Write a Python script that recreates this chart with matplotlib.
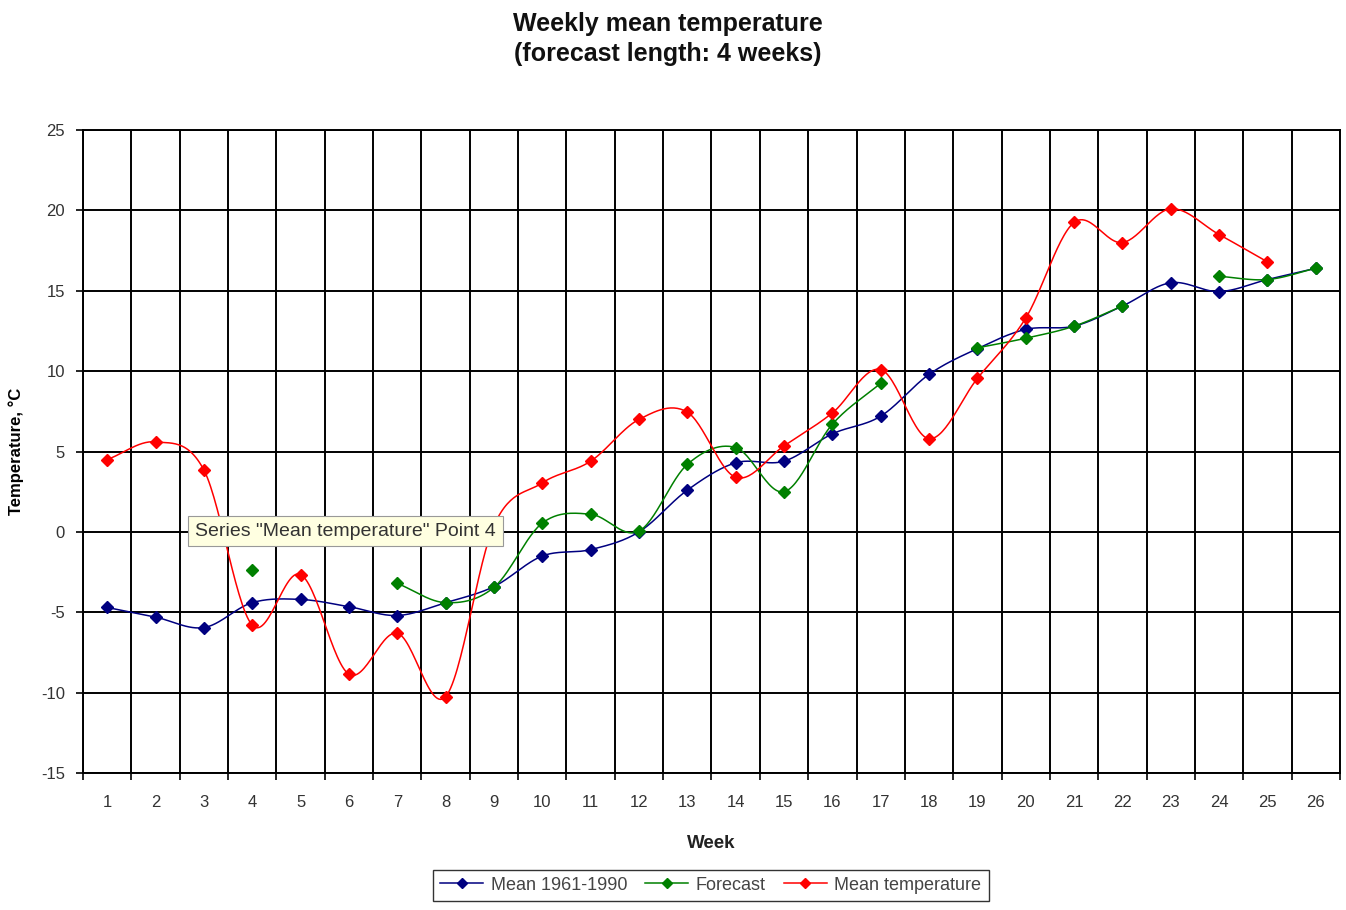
import numpy as np
import matplotlib
matplotlib.use("Agg")
import matplotlib.pyplot as plt

plt.rcParams['font.family'] = ['Liberation Sans', 'DejaVu Sans']
plt.rcParams['axes.unicode_minus'] = False

# data
weeks = list(range(1, 27))
mean_1961_1990 = [-4.7, -5.3, -5.95, -4.4, -4.2, -4.65, -5.2, -4.4, -3.4, -1.5,
                  -1.1, 0.0, 2.6, 4.3, 4.4, 6.1, 7.2, 9.8, 11.4, 12.6,
                  12.8, 14.05, 15.5, 14.95, 15.7, 16.4]
forecast = [None, None, None, -2.4, None, None, -3.2, -4.4, -3.45, 0.55,
            1.1, 0.05, 4.2, 5.25, 2.5, 6.7, 9.25, None, 11.45, 12.05,
            12.8, 14.05, None, 15.9, 15.7, 16.4]
mean_temp = [4.5, 5.6, 3.85, -5.8, -2.65, -8.85, -6.3, -10.25, 0.4, 3.05,
             4.4, 7.0, 7.45, 3.4, 5.35, 7.4, 10.1, 5.8, 9.55, 13.3,
             19.25, 18.0, 20.1, 18.5, 16.8, None]


def smooth(xs, ys, n=30):
    # Catmull-Rom style smoothing like Excel's "smoothed line"
    xs = np.asarray(xs, float)
    ys = np.asarray(ys, float)
    if len(xs) < 2:
        return xs, ys
    m = np.zeros(len(ys))
    m[1:-1] = (ys[2:] - ys[:-2]) / 2
    m[0] = ys[1] - ys[0]
    m[-1] = ys[-1] - ys[-2]
    outx, outy = [], []
    t = np.linspace(0, 1, n)
    h00 = 2*t**3 - 3*t**2 + 1
    h10 = t**3 - 2*t**2 + t
    h01 = -2*t**3 + 3*t**2
    h11 = t**3 - t**2
    for i in range(len(xs) - 1):
        outx.extend(xs[i] + t*(xs[i+1]-xs[i]))
        outy.extend(h00*ys[i] + h10*m[i] + h01*ys[i+1] + h11*m[i+1])
    return np.array(outx), np.array(outy)


def segments(xs, ys):
    segs, cur = [], []
    for x, y in zip(xs, ys):
        if y is None:
            if cur:
                segs.append(cur)
            cur = []
        else:
            cur.append((x, y))
    if cur:
        segs.append(cur)
    return segs


fig = plt.figure(figsize=(13.46, 9.10), dpi=100)
ax = fig.add_axes([0.0617, 0.1505, 0.9338, 0.7066])

series = [
    (mean_1961_1990, '#000080', 'Mean 1961-1990'),
    (forecast, '#008000', 'Forecast'),
    (mean_temp, '#FF0000', 'Mean temperature'),
]
for vals, col, lab in series:
    for seg in segments(weeks, vals):
        sx, sy = zip(*seg)
        cx, cy = smooth(sx, sy)
        ax.plot(cx, cy, color=col, lw=1.1, zorder=3)
        ax.plot(sx, sy, linestyle='none', marker='D', markersize=6,
                color=col, zorder=4)
    ax.plot([], [], color=col, lw=1.1, marker='D', markersize=5, label=lab)

ax.set_xlim(0.5, 26.5)
ax.set_ylim(-15, 25)
ax.set_yticks(range(-15, 30, 5))
ax.set_xticks(weeks)
ax.set_xticks(np.arange(0.5, 27, 1), minor=True)
ax.grid(True, which='minor', axis='x', color='black', lw=1.4)
ax.grid(True, which='major', axis='y', color='black', lw=1.4)
ax.set_axisbelow(True)
ax.tick_params(axis='x', which='major', length=0, pad=16, labelsize=12,
               labelcolor='#333333')
ax.tick_params(axis='x', which='minor', length=5, width=1.2)
ax.tick_params(axis='y', length=5, width=1.2, pad=8, labelsize=12,
               labelcolor='#333333')
for sp in ax.spines.values():
    sp.set_linewidth(1.4)

ax.set_xlabel('Week', fontsize=13.5, fontweight='bold', color='#222222', labelpad=18)
ax.set_ylabel('Temperature, °C', fontsize=12, fontweight='bold', labelpad=12)
fig.text(0.4963, 0.987, 'Weekly mean temperature\n(forecast length: 4 weeks)',
         ha='center', va='top', fontsize=18, fontweight='bold', linespacing=1.35,
         color='#111111')

ax.text(2.82, 0.05, 'Series "Mean temperature" Point 4', ha='left', va='center',
        fontsize=14, color='#333333', zorder=6,
        bbox=dict(boxstyle='square,pad=0.35', fc='#FFFFE1', ec='#999999', lw=0.8))

leg = fig.legend(loc='lower center', bbox_to_anchor=(0.528, 0.0), ncol=3,
                 fontsize=13, frameon=True, fancybox=False, edgecolor='black',
                 handlelength=2.4, columnspacing=1.0, handletextpad=0.4,
                 borderpad=0.4)
leg.get_frame().set_linewidth(1.0)
for t in leg.get_texts():
    t.set_color('#444444')

fig.savefig('out.png', dpi=100)
